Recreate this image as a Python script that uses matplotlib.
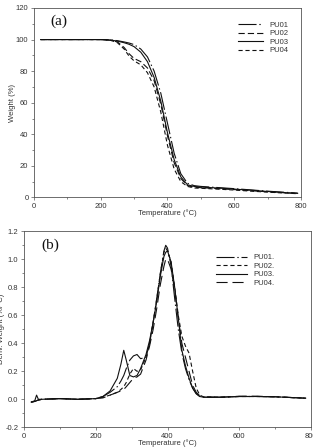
# plot.py
# Two stacked thermal analysis panels: (a) TGA weight loss, (b) DTG derivative.

import matplotlib
matplotlib.use('Agg')
import matplotlib.pyplot as plt
from matplotlib.ticker import MultipleLocator

plt.rcParams['font.family'] = ['Liberation Sans', 'DejaVu Sans']
plt.rcParams['lines.scale_dashes'] = False

# (a) TGA weight (%) vs temperature (°C)
tga_temperature = [20, 100, 200, 230, 250, 270, 285, 300, 320, 340, 360, 380,
                   400, 420, 440, 460, 480, 500, 550, 600, 650, 700, 750, 790]
tga_pu01 = [100, 100, 100, 99.8, 99.3, 98.5, 97.8, 96.8, 94, 89, 80, 66,
            47, 28, 15, 9, 7.5, 7, 6.3, 5.6, 4.8, 4.0, 3.3, 2.8]
tga_pu02 = [100, 100, 100, 99.5, 98.5, 95, 91, 88, 86, 82, 74, 59,
            39, 22, 12, 7.5, 6.5, 6.2, 5.6, 5.0, 4.3, 3.6, 3.0, 2.5]
tga_pu03 = [100, 100, 100, 99.7, 99, 98, 97, 95.5, 92, 86, 76, 61,
            41, 24, 13, 8, 7, 6.6, 6.0, 5.3, 4.6, 3.8, 3.1, 2.6]
tga_pu04 = [100, 100, 100, 99.5, 98, 94, 89.5, 86.5, 84, 79, 70, 54,
            33, 18, 10, 7, 6, 5.8, 5.3, 4.7, 4.0, 3.4, 2.8, 2.4]

# (b) DTG derivative weight (%/°C) vs temperature (°C)
dtg_temperature = [20, 30, 35, 40, 50, 100, 150, 200, 220, 240, 260, 270, 278,
                   285, 295, 305, 315, 325, 340, 350, 360, 370, 380, 390, 395,
                   400, 410, 420, 430, 440, 450, 460, 470, 480, 490, 500, 550,
                   600, 650, 700, 750, 785]
dtg_pu01 = [-0.02, -0.01, 0.03, 0.0, 0.0, 0.005, 0.0, 0.005, 0.02, 0.05, 0.09,
            0.13, 0.17, 0.22, 0.28, 0.31, 0.32, 0.29, 0.30, 0.40, 0.55, 0.72,
            0.90, 1.06, 1.10, 1.08, 0.95, 0.72, 0.50, 0.33, 0.22, 0.14, 0.08,
            0.04, 0.02, 0.015, 0.015, 0.02, 0.02, 0.018, 0.012, 0.008]
dtg_pu02 = [-0.02, -0.015, -0.01, -0.005, 0.0, 0.005, 0.0, 0.005, 0.015, 0.03,
            0.05, 0.07, 0.09, 0.12, 0.18, 0.22, 0.20, 0.21, 0.30, 0.40, 0.55,
            0.72, 0.90, 1.05, 1.08, 1.06, 0.98, 0.80, 0.60, 0.45, 0.38, 0.33,
            0.20, 0.08, 0.03, 0.018, 0.015, 0.02, 0.02, 0.018, 0.012, 0.008]
dtg_pu03 = [-0.02, -0.015, -0.01, -0.005, 0.0, 0.005, 0.0, 0.005, 0.02, 0.06,
            0.15, 0.25, 0.35, 0.28, 0.17, 0.16, 0.17, 0.22, 0.32, 0.42, 0.55,
            0.70, 0.88, 1.02, 1.05, 1.06, 0.98, 0.80, 0.58, 0.35, 0.24, 0.15,
            0.08, 0.04, 0.02, 0.015, 0.015, 0.02, 0.02, 0.018, 0.012, 0.008]
dtg_pu04 = [-0.02, -0.015, -0.01, -0.005, 0.0, 0.005, 0.0, 0.005, 0.01, 0.03,
            0.05, 0.06, 0.07, 0.09, 0.12, 0.15, 0.16, 0.18, 0.28, 0.38, 0.50,
            0.65, 0.82, 0.95, 1.00, 1.00, 0.93, 0.78, 0.58, 0.40, 0.30, 0.20,
            0.10, 0.05, 0.025, 0.015, 0.015, 0.022, 0.022, 0.018, 0.012, 0.008]

labels_top = ['PU01', 'PU02', 'PU03', 'PU04']
labels_bottom = ['PU01.', 'PU02.', 'PU03.', 'PU04.']

ink = '#111111'
text_color = '#333333'
frame_color = '#555555'
font_size = 5.5

dash_dot = (0, (13, 2, 1, 2))
long_dash = (0, (4.5, 2.2))
short_dash = (0, (3, 2))
longer_dash = (0, (8, 3.5))


def style_axis(axis, x_label, y_label, ylabel_x, xlabel_y):
    # Outward ticks on left and bottom, plain frame elsewhere
    for spine in axis.spines.values():
        spine.set_linewidth(0.6)
        spine.set_color(frame_color)
    axis.tick_params(which='both', direction='out', width=0.5,
                     color=frame_color, labelsize=font_size,
                     labelcolor=text_color, pad=1.5, top=False, right=False)
    axis.tick_params(which='major', length=2.5)
    axis.tick_params(which='minor', length=1.5)
    axis.set_xlabel(x_label, fontsize=font_size, color=text_color)
    axis.set_ylabel(y_label, fontsize=font_size, color=text_color)
    axis.yaxis.set_label_coords(ylabel_x, 0.5)
    axis.xaxis.set_label_coords(0.5, xlabel_y)


fig = plt.figure(figsize=(3.13, 4.48), dpi=100)

# Panel (a)
axis_top = fig.add_axes([0.1086, 0.5592, 0.853, 0.423])
axis_top.plot(tga_temperature, tga_pu01, color=ink, lw=0.8, linestyle=dash_dot, label=labels_top[0])
axis_top.plot(tga_temperature, tga_pu02, color=ink, lw=0.8, linestyle=long_dash, label=labels_top[1])
axis_top.plot(tga_temperature, tga_pu03, color=ink, lw=0.8, linestyle='-', label=labels_top[2])
axis_top.plot(tga_temperature, tga_pu04, color=ink, lw=0.8, linestyle=short_dash, label=labels_top[3])
axis_top.set_xlim(0, 800)
axis_top.set_ylim(0, 120)
axis_top.xaxis.set_major_locator(MultipleLocator(200))
axis_top.xaxis.set_minor_locator(MultipleLocator(100))
axis_top.yaxis.set_major_locator(MultipleLocator(20))
axis_top.yaxis.set_minor_locator(MultipleLocator(10))
style_axis(axis_top, 'Temperature (°C)', 'Weight (%)', -0.067, -0.064)
axis_top.text(0.06, 0.93, '(a)', transform=axis_top.transAxes, fontsize=11,
              family='Liberation Serif', color=ink, va='center', ha='left')
axis_top.legend(loc='upper left', bbox_to_anchor=(0.764, 0.929), frameon=False,
                fontsize=font_size, handlelength=3.3, handletextpad=0.8,
                labelspacing=0.15, borderpad=0, borderaxespad=0,
                labelcolor=text_color)

# Panel (b)
axis_bottom = fig.add_axes([0.0767, 0.0462, 0.917, 0.4375])
axis_bottom.plot(dtg_temperature, dtg_pu01, color=ink, lw=0.8, linestyle=dash_dot, label=labels_bottom[0])
axis_bottom.plot(dtg_temperature, dtg_pu02, color=ink, lw=0.8, linestyle=short_dash, label=labels_bottom[1])
axis_bottom.plot(dtg_temperature, dtg_pu03, color=ink, lw=0.8, linestyle='-', label=labels_bottom[2])
axis_bottom.plot(dtg_temperature, dtg_pu04, color=ink, lw=0.8, linestyle=longer_dash, label=labels_bottom[3])
axis_bottom.set_xlim(0, 800)
axis_bottom.set_ylim(-0.2, 1.2)
axis_bottom.xaxis.set_major_locator(MultipleLocator(200))
axis_bottom.xaxis.set_minor_locator(MultipleLocator(100))
axis_bottom.yaxis.set_major_locator(MultipleLocator(0.2))
axis_bottom.yaxis.set_minor_locator(MultipleLocator(0.1))
axis_bottom.yaxis.set_major_formatter(plt.FuncFormatter(lambda value, _: f'{value:.1f}'))
style_axis(axis_bottom, 'Temperature (°C)', 'Deriv. Weight (%/°C)', -0.066, -0.062)
axis_bottom.text(0.06, 0.93, '(b)', transform=axis_bottom.transAxes, fontsize=11,
                 family='Liberation Serif', color=ink, va='center', ha='left')
axis_bottom.legend(loc='upper left', bbox_to_anchor=(0.669, 0.885), frameon=False,
                   fontsize=font_size, handlelength=4.0, handletextpad=0.9,
                   labelspacing=0.15, borderpad=0, borderaxespad=0,
                   labelcolor=text_color)

fig.savefig('out.png', dpi=100)
